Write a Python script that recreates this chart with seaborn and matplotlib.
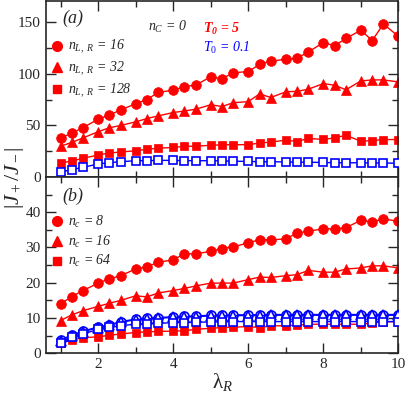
"""
Ratio |J+/J-| vs lambda_R for two panel setups (a) and (b)
"""

import numpy as np
import pandas as pd
import matplotlib
matplotlib.use('Agg')
import matplotlib.pyplot as plt
from matplotlib.lines import Line2D
from matplotlib.ticker import MultipleLocator
import seaborn as sns

sns.set_style('ticks')
plt.rcParams['font.family'] = ['Liberation Serif', 'DejaVu Serif']
plt.rcParams['mathtext.fontset'] = 'custom'
plt.rcParams['mathtext.rm'] = 'Liberation Serif'
plt.rcParams['mathtext.it'] = 'Liberation Serif:italic'
plt.rcParams['mathtext.bf'] = 'Liberation Serif:italic:bold'

# x values shared by every series
lam_r = [1, 1.3, 1.6, 2, 2.3, 2.6, 3, 3.3, 3.6, 4, 4.3, 4.6, 5, 5.3,
         5.6, 6, 6.3, 6.6, 7, 7.3, 7.6, 8, 8.3, 8.6, 9, 9.3, 9.6, 10]

# panel (a): n_C = 0, varying n_{L,R}
a_n16 = [37.8, 42.6, 48, 56, 60, 65, 71, 75, 82, 84, 87.5, 89, 97, 95,
         101, 102, 109, 112, 114, 115, 121, 130, 127, 134, 142, 132, 148, 136]
a_n32 = [30, 33.7, 38, 44, 47.8, 50, 53.5, 56.7, 59.3, 62.5, 64, 65.7, 70, 68.3,
         72, 73, 80.5, 77, 82.5, 83, 85, 90.5, 88.8, 84.5, 93, 94, 94, 92]
a_n128 = [13.8, 15.7, 18.3, 21.5, 23.4, 24.4, 25.6, 27, 28, 28.8, 29.8, 30.1, 30.8, 31.4,
          31.4, 31.5, 33, 34, 35.8, 34.5, 37.5, 36.5, 38, 40.5, 34.8, 35.4, 36.4, 36.4]
a_cold = [5, 7.4, 9.6, 12.8, 14.1, 15, 16, 16, 16.3, 16.3, 16, 16, 16, 15.8,
          15.5, 15.3, 15, 15, 14.8, 14.5, 14.5, 14.3, 14, 14, 14, 13.8, 13.8, 13.5]

# panel (b): varying n_c
b_n8 = [14.0, 16.1, 17.8, 19.9, 21.1, 22, 23.9, 24.5, 25.8, 26.5, 28.2, 28.2, 28.9, 29.7,
        30.2, 31.3, 32.2, 32.2, 32.4, 34.1, 34.6, 35.3, 35.3, 35.6, 37.7, 37.2, 38.1, 37.4]
b_n16 = [9.3, 10.9, 12.1, 13.3, 14.2, 15, 16.3, 16, 17.1, 17.8, 18.4, 19.1, 19.9, 19.9,
         19.9, 20.9, 21.6, 21.5, 22, 22.3, 23.5, 23, 23, 23.9, 24.2, 24.8, 24.8, 24.2]
b_n64 = [3.0, 3.8, 4.4, 4.7, 5.1, 5.5, 5.9, 6.1, 6.2, 6.3, 6.4, 6.8, 7.1, 7.3,
         7.4, 7.6, 7.3, 7.8, 7.8, 8.0, 8.2, 8.3, 8.2, 8.3, 8.2, 8.6, 8.9, 9.0]
b_cold8 = [3.8, 5.2, 6.3, 7.5, 8.1, 9.0, 9.7, 10, 10.1, 10.4, 10.5, 10.6, 10.8, 10.8,
           10.9, 10.9, 10.9, 11, 11, 11, 11, 11, 11, 11, 11, 11, 11, 11]
b_cold16 = [3.6, 5.0, 6.1, 7.3, 7.9, 8.8, 9.5, 9.8, 9.9, 10.2, 10.3, 10.4, 10.6, 10.6,
            10.7, 10.7, 10.7, 10.8, 10.8, 10.8, 10.8, 10.8, 10.8, 10.8, 10.8, 10.8, 10.8, 10.8]
b_cold64 = [3.0, 4.5, 5.5, 6.8, 7.4, 7.8, 8.3, 8.3, 8.5, 8.7, 8.7, 8.8, 8.9, 8.9,
            9.0, 9.0, 9.0, 9.0, 9.0, 9.0, 9.0, 9.0, 9.0, 9.0, 9.0, 9.0, 9.0, 9.0]

a_labels = [r'$n_{L,\ R}$ = 16', r'$n_{L,\ R}$ = 32', r'$n_{L,\ R}$ = 128']
b_labels = [r'$n_c$ = 8', r'$n_c$ = 16', r'$n_c$ = 64']

RED = '#ff0000'
BLUE = '#0000ff'
MARKERS = ['o', '^', 's']
MSIZE = [7, 7, 6]


def draw_series(ax, y, color, marker, ms, hollow=False, z=2):
    kw = dict(marker=marker, markersize=ms, color=color, linewidth=1.0,
              markeredgecolor=color, zorder=z)
    if hollow:
        kw.update(markerfacecolor='white', markeredgewidth=1.2)
    else:
        kw.update(markeredgewidth=0.5)
    sns.lineplot(x=lam_r, y=y, ax=ax, **kw)


def style_axis(ax, ymax, major, minor):
    ax.set_xlim(0.6, 10)
    ax.set_ylim(0, ymax)
    ax.xaxis.set_major_locator(MultipleLocator(2))
    ax.xaxis.set_minor_locator(MultipleLocator(1))
    ax.yaxis.set_major_locator(MultipleLocator(major))
    ax.yaxis.set_minor_locator(MultipleLocator(minor))
    ax.tick_params(which='both', direction='in', top=True, right=True,
                   labelsize=11, width=1)
    ax.tick_params(which='major', length=7)
    ax.tick_params(which='minor', length=4)
    for sp in ax.spines.values():
        sp.set_linewidth(1.2)
    ax.set_xlabel('')
    ax.set_ylabel('')


def legend_handles():
    return [Line2D([], [], marker=m, color=RED, ls='none', markersize=s)
            for m, s in zip(MARKERS, MSIZE)]


fig, (ax_a, ax_b) = plt.subplots(2, 1, sharex=True, figsize=(4.07, 3.97), dpi=100)
fig.subplots_adjust(left=0.112, right=0.979, top=0.997, bottom=0.110, hspace=0)

# panel (a)
for y, m, s in zip([a_n16, a_n32, a_n128], MARKERS, MSIZE):
    draw_series(ax_a, y, RED, m, s)
draw_series(ax_a, a_cold, BLUE, 's', 6, hollow=True, z=3)
style_axis(ax_a, 170, 50, 25)
ax_a.tick_params(labelbottom=False)

ax_a.text(0.047, 0.905, '(a)', transform=ax_a.transAxes, fontsize=13,
          style='italic', va='center')
ax_a.text(0.29, 0.855, r'$n_C$ = 0', transform=ax_a.transAxes, fontsize=10,
          style='italic', va='center')
ax_a.text(0.447, 0.845, r'$\mathbf{T_0}$ = 5', transform=ax_a.transAxes, fontsize=10,
          style='italic', weight='bold', color=RED, va='center')
ax_a.text(0.447, 0.735, r'$T_0$ = 0.1', transform=ax_a.transAxes, fontsize=10,
          style='italic', color=BLUE, va='center')
leg_a = ax_a.legend(legend_handles(), a_labels, loc='upper left',
                    bbox_to_anchor=(0.015, 0.79), frameon=False, fontsize=10,
                    handlelength=0.9, handletextpad=0.3, labelspacing=0.25,
                    borderpad=0, borderaxespad=0)
for t in leg_a.get_texts():
    t.set_style('italic')

# panel (b)
for y, m, s in zip([b_n8, b_n16, b_n64], MARKERS, MSIZE):
    draw_series(ax_b, y, RED, m, s)
for y, m, s in zip([b_cold8, b_cold16, b_cold64], MARKERS, MSIZE):
    draw_series(ax_b, y, BLUE, m, s - 0.5, hollow=True, z=3)
style_axis(ax_b, 49.9, 10, 5)

ax_b.text(0.047, 0.89, '(b)', transform=ax_b.transAxes, fontsize=13,
          style='italic', va='center')
leg_b = ax_b.legend(legend_handles(), b_labels, loc='upper left',
                    bbox_to_anchor=(0.015, 0.79), frameon=False, fontsize=10,
                    handlelength=0.9, handletextpad=0.3, labelspacing=0.25,
                    borderpad=0, borderaxespad=0)
for t in leg_b.get_texts():
    t.set_style('italic')

ax_b.set_xlabel(r'$\mathrm{\lambda}_R$', fontsize=15, labelpad=0)
fig.text(0.035, 0.552, r'$|J_+/J_-|$', rotation=90, fontsize=16,
         ha='center', va='center')

fig.savefig('out.png', dpi=100)
